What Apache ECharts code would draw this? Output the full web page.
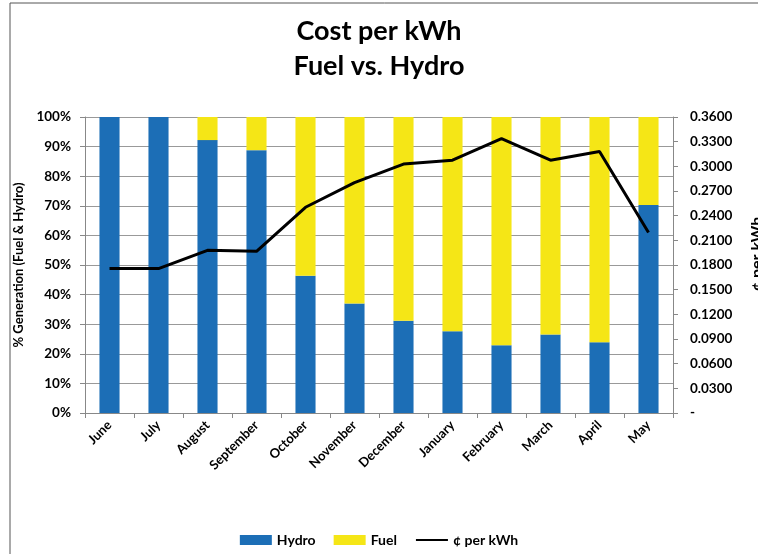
<!DOCTYPE html>
<html>
<head>
<meta charset="utf-8">
<script src="https://cdn.jsdelivr.net/npm/echarts@6/dist/echarts.min.js"></script>
<style>
  html, body { margin: 0; padding: 0; background: #fff; }
  #main { width: 758px; height: 554px; }
</style>
</head>
<body>
<div id="main"></div>
<script>
var months = ['June', 'July', 'August', 'September', 'October', 'November',
              'December', 'January', 'February', 'March', 'April', 'May'];
var hydroPct = [100, 100, 92.2, 88.8, 46.4, 37.0, 31.2, 27.6, 22.9, 26.5, 23.9, 70.3];
var fuelPct = [0, 0, 7.8, 11.2, 53.6, 63.0, 68.8, 72.4, 77.1, 73.5, 76.1, 29.7];
var costPerKwh = [0.1756, 0.1756, 0.1978, 0.1966, 0.2502, 0.2801,
                  0.3027, 0.3075, 0.3338, 0.3075, 0.3180, 0.2196];

var font = 'Lato, "Open Sans", sans-serif';
var chart = echarts.init(document.getElementById('main'));

var option = {
    backgroundColor: '#fff',
    animation: false,
    textStyle: { fontFamily: font },
    title: {
        text: 'Cost per kWh\nFuel vs. Hydro',
        left: 'center',
        top: 9,
        textStyle: { fontSize: 27, fontWeight: 'bold', color: '#000', lineHeight: 35, fontFamily: font }
    },
    graphic: [{
        type: 'rect',
        shape: { x: 10, y: 3, width: 760, height: 560 },
        style: { fill: 'none', stroke: '#555', lineWidth: 1 },
        silent: true
    }],
    legend: {
        bottom: 2,
        left: 'center',
        itemWidth: 32,
        itemHeight: 10,
        itemGap: 18,
        textStyle: { fontSize: 14, fontWeight: 'bold', color: '#000', fontFamily: font },
        data: [
            { name: 'Hydro', icon: 'rect' },
            { name: 'Fuel', icon: 'rect' },
            { name: '¢ per kWh', itemStyle: { opacity: 0 } }
        ]
    },
    grid: { left: 85, right: 85, top: 117, bottom: 141, outerBoundsMode: 'none' },
    xAxis: {
        type: 'category',
        data: months,
        axisLine: { lineStyle: { color: '#888' } },
        axisTick: { show: true, length: 5, alignWithLabel: false, lineStyle: { color: '#888' } },
        axisLabel: { rotate: 45, interval: 0, fontSize: 13, fontWeight: 'bold', color: '#000', margin: 10 }
    },
    yAxis: [{
        type: 'value',
        min: 0,
        max: 100,
        interval: 10,
        name: '% Generation (Fuel & Hydro)',
        nameLocation: 'middle',
        nameGap: 60,
        nameRotate: 90,
        nameTextStyle: { fontSize: 13, fontWeight: 'bold', color: '#000', fontFamily: font },
        axisLine: { show: true, lineStyle: { color: '#888' } },
        axisTick: { show: true, length: 5, lineStyle: { color: '#888' } },
        axisLabel: { formatter: '{value}%', fontSize: 13.5, fontWeight: 'bold', color: '#000', margin: 14 },
        splitLine: { show: true, lineStyle: { color: '#999' } }
    }, {
        type: 'value',
        min: 0,
        max: 0.36,
        interval: 0.03,
        position: 'right',
        name: '¢ per kWh',
        nameLocation: 'middle',
        nameGap: 76,
        nameRotate: 90,
        nameTextStyle: { fontSize: 16, fontWeight: 'bold', color: '#000', fontFamily: font, padding: [0, 0, 0, 22] },
        axisLine: { show: true, lineStyle: { color: '#888' } },
        axisTick: { show: true, length: 5, lineStyle: { color: '#888' } },
        axisLabel: {
            formatter: function (v) { return v === 0 ? '-' : v.toFixed(4); },
            fontSize: 13.5, fontWeight: 'bold', color: '#000', margin: 17
        },
        splitLine: { show: false }
    }],
    series: [{
        name: 'Hydro',
        type: 'bar',
        stack: 'gen',
        barWidth: '41%',
        itemStyle: { color: '#1c6eb6' },
        data: hydroPct
    }, {
        name: 'Fuel',
        type: 'bar',
        stack: 'gen',
        barWidth: '41%',
        itemStyle: { color: '#f5e616' },
        data: fuelPct
    }, {
        name: '¢ per kWh',
        type: 'line',
        yAxisIndex: 1,
        symbol: 'none',
        lineStyle: { color: '#000', width: 3 },
        itemStyle: { color: '#000' },
        data: costPerKwh
    }]
};

chart.setOption(option);
</script>
</body>
</html>
